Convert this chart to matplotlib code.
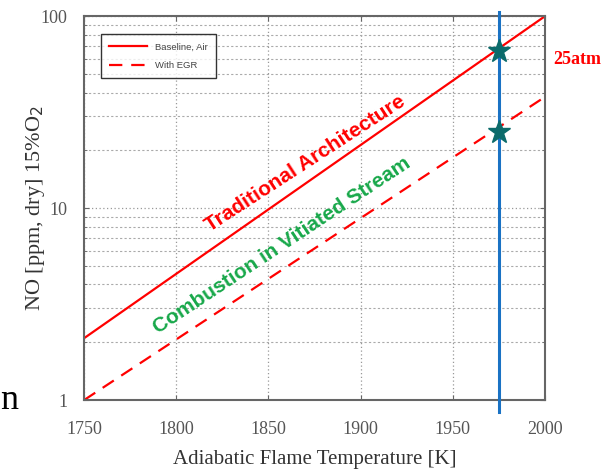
import matplotlib
matplotlib.use("Agg")
import matplotlib.pyplot as plt
from matplotlib.ticker import FixedLocator, NullFormatter

# ── Data ───────────────────────────────────────────────────────
temps = [1750, 2000]
no_baseline = [2.1, 100]
no_egr = [1.0, 38]
star_temp = [1975, 1975]
star_no = [66, 25]
marker_temp = 1975
x_ticks = [1750, 1800, 1850, 1900, 1950, 2000]
y_ticks = [1, 10, 100]
y_tick_labels = ["1", "10", "100"]

RED = "#ff0000"
BLUE = "#1a72c4"
TEAL = "#0b6b6b"
GREEN = "#18a84a"

plt.rcParams["font.family"] = ["Liberation Serif", "DejaVu Serif"]

fig = plt.figure(figsize=(6.05, 4.74), dpi=100)
ax = fig.add_axes([0.139, 0.156, 0.762, 0.810])

ax.plot(temps, no_baseline, color=RED, lw=1.6, label="Baseline, Air")
ax.plot(temps, no_egr, color=RED, lw=1.6, ls=(0, (6, 4)), label="With EGR")

ax.set_yscale("log")
ax.set_xlim(1750, 2000)
ax.set_ylim(1, 100)

# vertical marker line, runs slightly past the axes
ax.plot([marker_temp, marker_temp], [0.87, 105], color=BLUE, lw=2.2,
        clip_on=False, zorder=4)
ax.plot(star_temp, star_no, ls="none", marker="*", ms=17, color=TEAL,
        zorder=5, clip_on=False)

# grid (MATLAB style)
ax.set_xticks(x_ticks)
ax.set_yticks(y_ticks)
ax.set_yticklabels(y_tick_labels)
minor = [m * d for d in (1, 10) for m in range(2, 10)]
ax.yaxis.set_minor_locator(FixedLocator(minor))
ax.yaxis.set_minor_formatter(NullFormatter())
ax.grid(which="major", color="#999999", ls=(0, (1, 2)), lw=0.9)
ax.grid(which="minor", axis="y", color="#aaaaaa", ls=(0, (2, 2)), lw=0.8)
ax.tick_params(which="both", direction="in", top=True, right=True,
               colors="#666666", labelcolor="#555555", labelsize=13)
ax.tick_params(axis="x", pad=15)
ax.tick_params(axis="y", pad=12)
for s in ax.spines.values():
    s.set_color("#666666")
    s.set_linewidth(1.5)

ax.set_xlabel("Adiabatic Flame Temperature [K]", fontsize=15, color="#333333",
              labelpad=9)
ax.set_ylabel(r"NO [ppm, dry] 15%O$_2$", fontsize=16, color="#333333")
ax.yaxis.set_label_coords(-0.08, 0.5)

leg = ax.legend(loc="upper left", bbox_to_anchor=(0.026, 0.966),
                prop={"family": "Liberation Sans", "size": 6.8},
                frameon=True, fancybox=False, edgecolor="black",
                handlelength=4, borderpad=0.9, labelspacing=1.0)
leg.get_frame().set_linewidth(1.0)
for t in leg.get_texts():
    t.set_color("#444444")

ax.text(1870, 17.0, "Traditional Architecture", color=RED, fontsize=15,
        fontweight="bold", family="Liberation Sans", rotation=33,
        rotation_mode="anchor", ha="center", va="center")
ax.text(1857, 6.4, "Combustion in Vitiated Stream", color=GREEN, fontsize=15,
        fontweight="bold", family="Liberation Sans", rotation=33.5,
        rotation_mode="anchor", ha="center", va="center")

fig.text(0.914, 0.875, "25atm", color=RED, fontsize=13, fontweight="bold",
         ha="left", va="center")
fig.text(0.0, 0.138, "n", color="black", fontsize=26, ha="left",
         va="baseline")

fig.savefig("out.png", dpi=100)
